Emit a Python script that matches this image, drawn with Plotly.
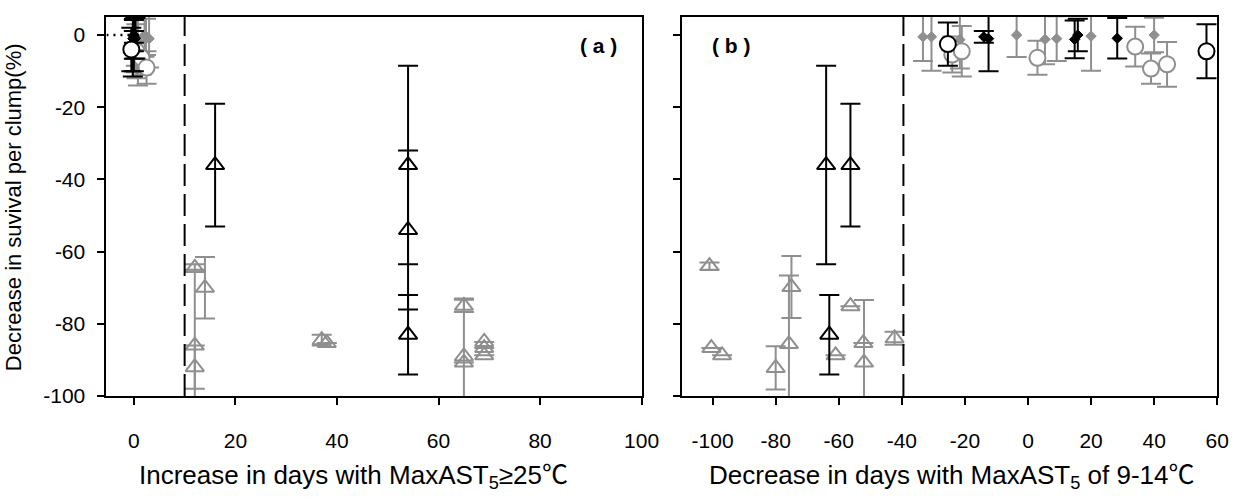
import plotly.graph_objects as go

BLACK = "#000000"
GRAY = "#8f8f8f"
FONT = "Arial, Liberation Sans, Noto Sans CJK SC, sans-serif"

# ---------------- Panel (a) data ----------------
a_blk_tri_x = [16, 54, 54, 54]
a_blk_tri_y = [-36, -36, -54, -83]
a_blk_tri_e = [17, 27.5, 22, 11]

a_gry_tri_x = [12, 14, 12, 12, 37, 38, 65, 65, 65, 69, 69, 69]
a_gry_tri_y = [-64.5, -70, -86, -92, -84.5, -85.3, -75, -89, -90.7, -85, -86.7, -88.7]
a_gry_tri_e = [1, 8.5, 21, 6, 1.5, 0, 1.7, 16, 0, 0, 0, 0]

a_blk_pt_x = [0, 0, 0, 0, 0.3, -0.2]
a_blk_pt_y = [-0.5, -1, -1.2, 0, -0.9, -1]
a_blk_pt_e = [1.6, 9, 5.4, 4.5, 5.6, 10.5]

a_blk_cir_x = [-0.5]
a_blk_cir_y = [-4]
a_blk_cir_e = [6]

a_gry_pt_x = [0.4, 0.4, 2.1, 2.4, 3.0, 0.8]
a_gry_pt_y = [-0.5, -1.3, 0, -0.5, -1, -1.5]
a_gry_pt_e = [8, 9, 6, 5, 8, 12.5]

a_gry_cir_x = [0.5, 1.5, 2.5]
a_gry_cir_y = [-4.5, -6.3, -9]
a_gry_cir_e = [7.5, 4.7, 4.5]

# ---------------- Panel (b) data ----------------
b_blk_tri_x = [-64, -56.3, -63]
b_blk_tri_y = [-36, -36, -83]
b_blk_tri_e = [27.5, 17, 11]

b_gry_tri_x = [-101, -100.4, -97, -80, -75.8, -75, -56.3, -61, -52.2, -52, -42.3]
b_gry_tri_y = [-64, -86.7, -88.7, -92.2, -85.6, -69.8, -75.1, -88.7, -85.3, -90.7, -84]
b_gry_tri_e = [1, 0, 0, 6, 19, 8.6, 0, 0, 0, 17.3, 1.8]

b_blk_pt_x = [-14, -12.5, 14.8, 15.8, 28.3]
b_blk_pt_y = [-0.5, -1, -1.2, 0, -0.9]
b_blk_pt_e = [1.6, 9, 5.2, 4.5, 5.6]

b_blk_cir_x = [-25.4, 56.6]
b_blk_cir_y = [-2.5, -4.5]
b_blk_cir_e = [6, 7.5]

b_gry_pt_x = [-33.3, -30.6, -21.6, -3.6, 5.4, 9.1, 20, 40]
b_gry_pt_y = [-0.5, -0.5, -1.3, 0, -1.2, -1, -0.3, 0]
b_gry_pt_e = [6.7, 9.4, 8, 6.1, 6.9, 6.2, 9.6, 4.8]

b_gry_cir_x = [-24, -21, 3, 34, 39, 44.1]
b_gry_cir_y = [-5.4, -4.5, -6.3, -3.2, -9.3, -8.1]
b_gry_cir_e = [5, 7, 4.7, 5.5, 4.2, 6.2]

y_ticks = [0, -20, -40, -60, -80, -100]
xa_ticks = [0, 20, 40, 60, 80, 100]
xb_ticks = [-100, -80, -60, -40, -20, 0, 20, 40, 60]

fig = go.Figure()


def add(x, y, e, color, kind, xa, ya):
    if kind == "tri":
        marker = dict(symbol="triangle-up-open", size=16, color=color, line=dict(color=color, width=2))
    elif kind == "cir":
        marker = dict(symbol="circle", size=16, color="white", line=dict(color=color, width=2))
    else:
        marker = dict(symbol="diamond", size=8, color=color, line=dict(color=color, width=1))
    fig.add_trace(go.Scatter(
        x=x, y=y, mode="markers", marker=marker, xaxis=xa, yaxis=ya,
        error_y=dict(type="data", array=e, symmetric=True, color=color, thickness=2, width=10),
        showlegend=False, hoverinfo="skip"))


# panel a
add(a_gry_tri_x, a_gry_tri_y, a_gry_tri_e, GRAY, "tri", "x", "y")
add(a_gry_pt_x, a_gry_pt_y, a_gry_pt_e, GRAY, "pt", "x", "y")
add(a_gry_cir_x, a_gry_cir_y, a_gry_cir_e, GRAY, "cir", "x", "y")
add(a_blk_tri_x, a_blk_tri_y, a_blk_tri_e, BLACK, "tri", "x", "y")
add(a_blk_pt_x, a_blk_pt_y, a_blk_pt_e, BLACK, "pt", "x", "y")
add(a_blk_cir_x, a_blk_cir_y, a_blk_cir_e, BLACK, "cir", "x", "y")
# panel b
add(b_gry_tri_x, b_gry_tri_y, b_gry_tri_e, GRAY, "tri", "x2", "y2")
add(b_gry_pt_x, b_gry_pt_y, b_gry_pt_e, GRAY, "pt", "x2", "y2")
add(b_gry_cir_x, b_gry_cir_y, b_gry_cir_e, GRAY, "cir", "x2", "y2")
add(b_blk_tri_x, b_blk_tri_y, b_blk_tri_e, BLACK, "tri", "x2", "y2")
add(b_blk_pt_x, b_blk_pt_y, b_blk_pt_e, BLACK, "pt", "x2", "y2")
add(b_blk_cir_x, b_blk_cir_y, b_blk_cir_e, BLACK, "cir", "x2", "y2")

axis_common = dict(showline=True, linecolor="black", linewidth=2, mirror=True,
                   ticks="outside", ticklen=7, tickwidth=2, tickcolor="black",
                   showgrid=False, zeroline=False,
                   tickfont=dict(family=FONT, size=21, color="black"))


def labels(vals):
    return [str(v) for v in vals]  # plain hyphen-minus like the reference


fig.update_layout(
    width=1249, height=500,
    margin=dict(l=0, r=0, t=0, b=0),
    paper_bgcolor="white", plot_bgcolor="white",
    xaxis=dict(domain=[108 / 1249, 651 / 1249], range=[-5.4, 100], tickvals=xa_ticks,
               ticktext=labels(xa_ticks), anchor="y", ticklabelstandoff=18, **axis_common),
    yaxis=dict(domain=[1 - 405 / 500, 1 - 17 / 500], range=[-100, 5.1], tickvals=y_ticks,
               ticktext=labels(y_ticks), anchor="x", ticklabelstandoff=8, **axis_common),
    xaxis2=dict(domain=[692 / 1249, 1235 / 1249], range=[-109.7, 60], tickvals=xb_ticks,
                ticktext=labels(xb_ticks), anchor="y2", ticklabelstandoff=18, **axis_common),
    yaxis2=dict(domain=[1 - 405 / 500, 1 - 17 / 500], range=[-100, 5.1], tickvals=y_ticks,
                anchor="x2", showticklabels=False, **axis_common),
)

# dashed threshold lines
fig.add_shape(type="line", xref="x", yref="y domain", x0=10, x1=10, y0=0, y1=1,
              line=dict(color="black", width=2, dash="22px,8px"))
fig.add_shape(type="line", xref="x2", yref="y2 domain", x0=-39.5, x1=-39.5, y0=0, y1=1,
              line=dict(color="black", width=2, dash="22px,8px"))
# dotted zero line in panel a
fig.add_shape(type="line", xref="x", yref="y", x0=-5.4, x1=0, y0=0, y1=0,
              line=dict(color="black", width=2.5, dash="2px,5px"))

ann = []
ann.append(dict(text="<b>( a )</b>", x=607 / 1249, y=1 - 47 / 500, xref="paper", yref="paper",
                xanchor="center", yanchor="middle", showarrow=False,
                font=dict(family=FONT, size=21, color="black")))
ann.append(dict(text="<b>( b )</b>", x=742 / 1249, y=1 - 47 / 500, xref="paper", yref="paper",
                xanchor="center", yanchor="middle", showarrow=False,
                font=dict(family=FONT, size=21, color="black")))
ann.append(dict(text="Increase in days with MaxAST<sub>5</sub>≥25℃", x=359 / 1249, y=-0.012,
                xref="paper", yref="paper", showarrow=False, xanchor="center", yanchor="bottom",
                font=dict(family=FONT, size=26, color="black")))
ann.append(dict(text="Decrease in days with MaxAST<sub>5</sub> of 9-14℃", x=966 / 1249, y=-0.012,
                xref="paper", yref="paper", showarrow=False, xanchor="center", yanchor="bottom",
                font=dict(family=FONT, size=26, color="black")))
ann.append(dict(text="Decrease in suvival per clump(%)", x=14 / 1249, y=1 - 212 / 500,
                xref="paper", yref="paper", showarrow=False, textangle=-90,
                xanchor="center", yanchor="middle",
                font=dict(family=FONT, size=22, color="black")))
fig.update_layout(annotations=ann)

fig.write_html("out.html")
